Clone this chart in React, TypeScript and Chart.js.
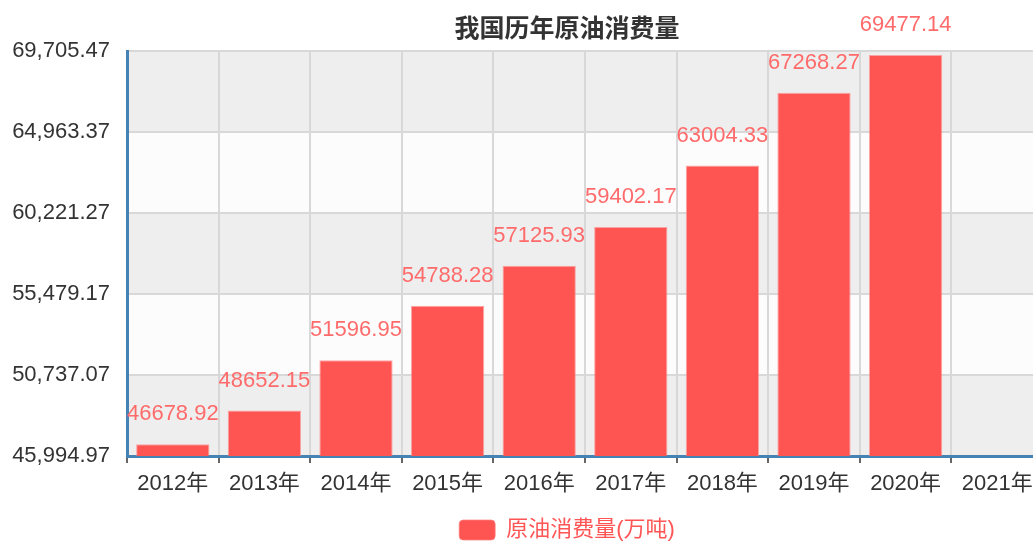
import React, { useEffect, useRef } from "react";
import { Chart, registerables } from "chart.js";

Chart.register(...registerables);

const title = "我国历年原油消费量";
const seriesName = "原油消费量(万吨)";
const categories = ["2012年", "2013年", "2014年", "2015年", "2016年", "2017年", "2018年", "2019年", "2020年", "2021年"];
const values: (number | null)[] = [46678.92, 48652.15, 51596.95, 54788.28, 57125.93, 59402.17, 63004.33, 67268.27, 69477.14, null];
const yTicks = [45994.97, 50737.07, 55479.17, 60221.27, 64963.37, 69705.47];

const FONT = '"Liberation Sans", "Noto Sans CJK SC", sans-serif';
const BAR = "#ff5552";

const bandsPlugin = {
  id: "bands",
  beforeDraw(chart: any) {
    const { ctx, chartArea } = chart;
    const y = chart.scales.y;
    ctx.save();
    ctx.fillStyle = "#ffffff";
    ctx.fillRect(0, 0, chart.width, chart.height);
    const px = yTicks.map((v) => y.getPixelForValue(v)).sort((a, b) => a - b);
    for (let i = 0; i < px.length - 1; i++) {
      ctx.fillStyle = i % 2 === 0 ? "#eeeeee" : "#fcfcfc";
      ctx.fillRect(chartArea.left, px[i], chartArea.right - chartArea.left, px[i + 1] - px[i]);
    }
    ctx.restore();
  },
};

const labelsPlugin = {
  id: "valueLabels",
  afterDatasetsDraw(chart: any) {
    const { ctx } = chart;
    const meta = chart.getDatasetMeta(0);
    ctx.save();
    ctx.font = `22px ${FONT}`;
    ctx.fillStyle = "#ff6b6b";
    ctx.textAlign = "center";
    ctx.textBaseline = "middle";
    meta.data.forEach((bar: any, i: number) => {
      const v = values[i];
      if (v == null) return;
      ctx.fillText(v.toFixed(2), bar.x, bar.y - 30);
    });
    ctx.restore();
  },
};

export default function App() {
  const ref = useRef<HTMLCanvasElement | null>(null);
  useEffect(() => {
    if (!ref.current) return;
    const chart = new Chart(ref.current, {
      type: "bar",
      data: {
        labels: categories,
        datasets: [
          {
            label: seriesName,
            data: values,
            backgroundColor: BAR,
            borderColor: "rgba(255,130,130,0.7)",
            borderWidth: 1,
            categoryPercentage: 0.8,
            barPercentage: 1,
          },
        ],
      },
      options: {
        responsive: false,
        animation: false,
        devicePixelRatio: 1,
        layout: { padding: 0 },
        plugins: {
          title: {
            display: true,
            text: title,
            color: "#333333",
            font: { family: FONT, size: 25, weight: "bold" },
            padding: { top: 15, bottom: 6 },
          },
          legend: {
            position: "bottom",
            labels: {
              color: "#ff5555",
              font: { family: FONT, size: 22 },
              boxWidth: 36,
              boxHeight: 20,
              useBorderRadius: true,
              borderRadius: 4,
              padding: 10,
            },
          },
          tooltip: { enabled: false },
        },
        scales: {
          x: {
            offset: true,
            grid: {
              display: true,
              offset: true,
              color: "#d8d8d8",
              lineWidth: 2,
              tickLength: 7,
              tickColor: "#333333",
              tickWidth: 1.5,
            },
            border: { display: true, color: "#4682b4", width: 3 },
            ticks: {
              color: "#333333",
              font: { family: FONT, size: 22 },
              padding: 8,
              maxRotation: 0,
              autoSkip: false,
            },
            afterFit: (s: any) => {
              s.height = 53;
            },
          },
          y: {
            min: yTicks[0],
            max: yTicks[yTicks.length - 1],
            afterBuildTicks: (s: any) => {
              s.ticks = yTicks.map((v) => ({ value: v }));
            },
            grid: { color: "#d8d8d8", lineWidth: 2, drawTicks: false },
            border: { display: true, color: "#4682b4", width: 3 },
            ticks: {
              color: "#333333",
              font: { family: FONT, size: 22 },
              padding: 17,
              callback: (v: any) =>
                Number(v).toLocaleString("en-US", { minimumFractionDigits: 2, maximumFractionDigits: 2 }),
            },
            afterFit: (s: any) => {
              s.width = 127;
            },
          },
          yR: {
            type: "linear",
            position: "right",
            display: true,
            grid: { display: false, drawTicks: false },
            border: { display: false },
            ticks: { display: false },
            afterFit: (s: any) => {
              s.width = 91;
            },
          },
        },
      } as any,
      plugins: [bandsPlugin, labelsPlugin],
    });
    return () => chart.destroy();
  }, []);

  return (
    <div
      style={{
        position: "fixed",
        left: 0,
        top: 0,
        width: "100vw",
        height: "100vh",
        overflow: "hidden",
        background: "#ffffff",
      }}
    >
      <canvas ref={ref} width={1134} height={551} style={{ display: "block", width: 1134, height: 551 }} />
    </div>
  );
}
